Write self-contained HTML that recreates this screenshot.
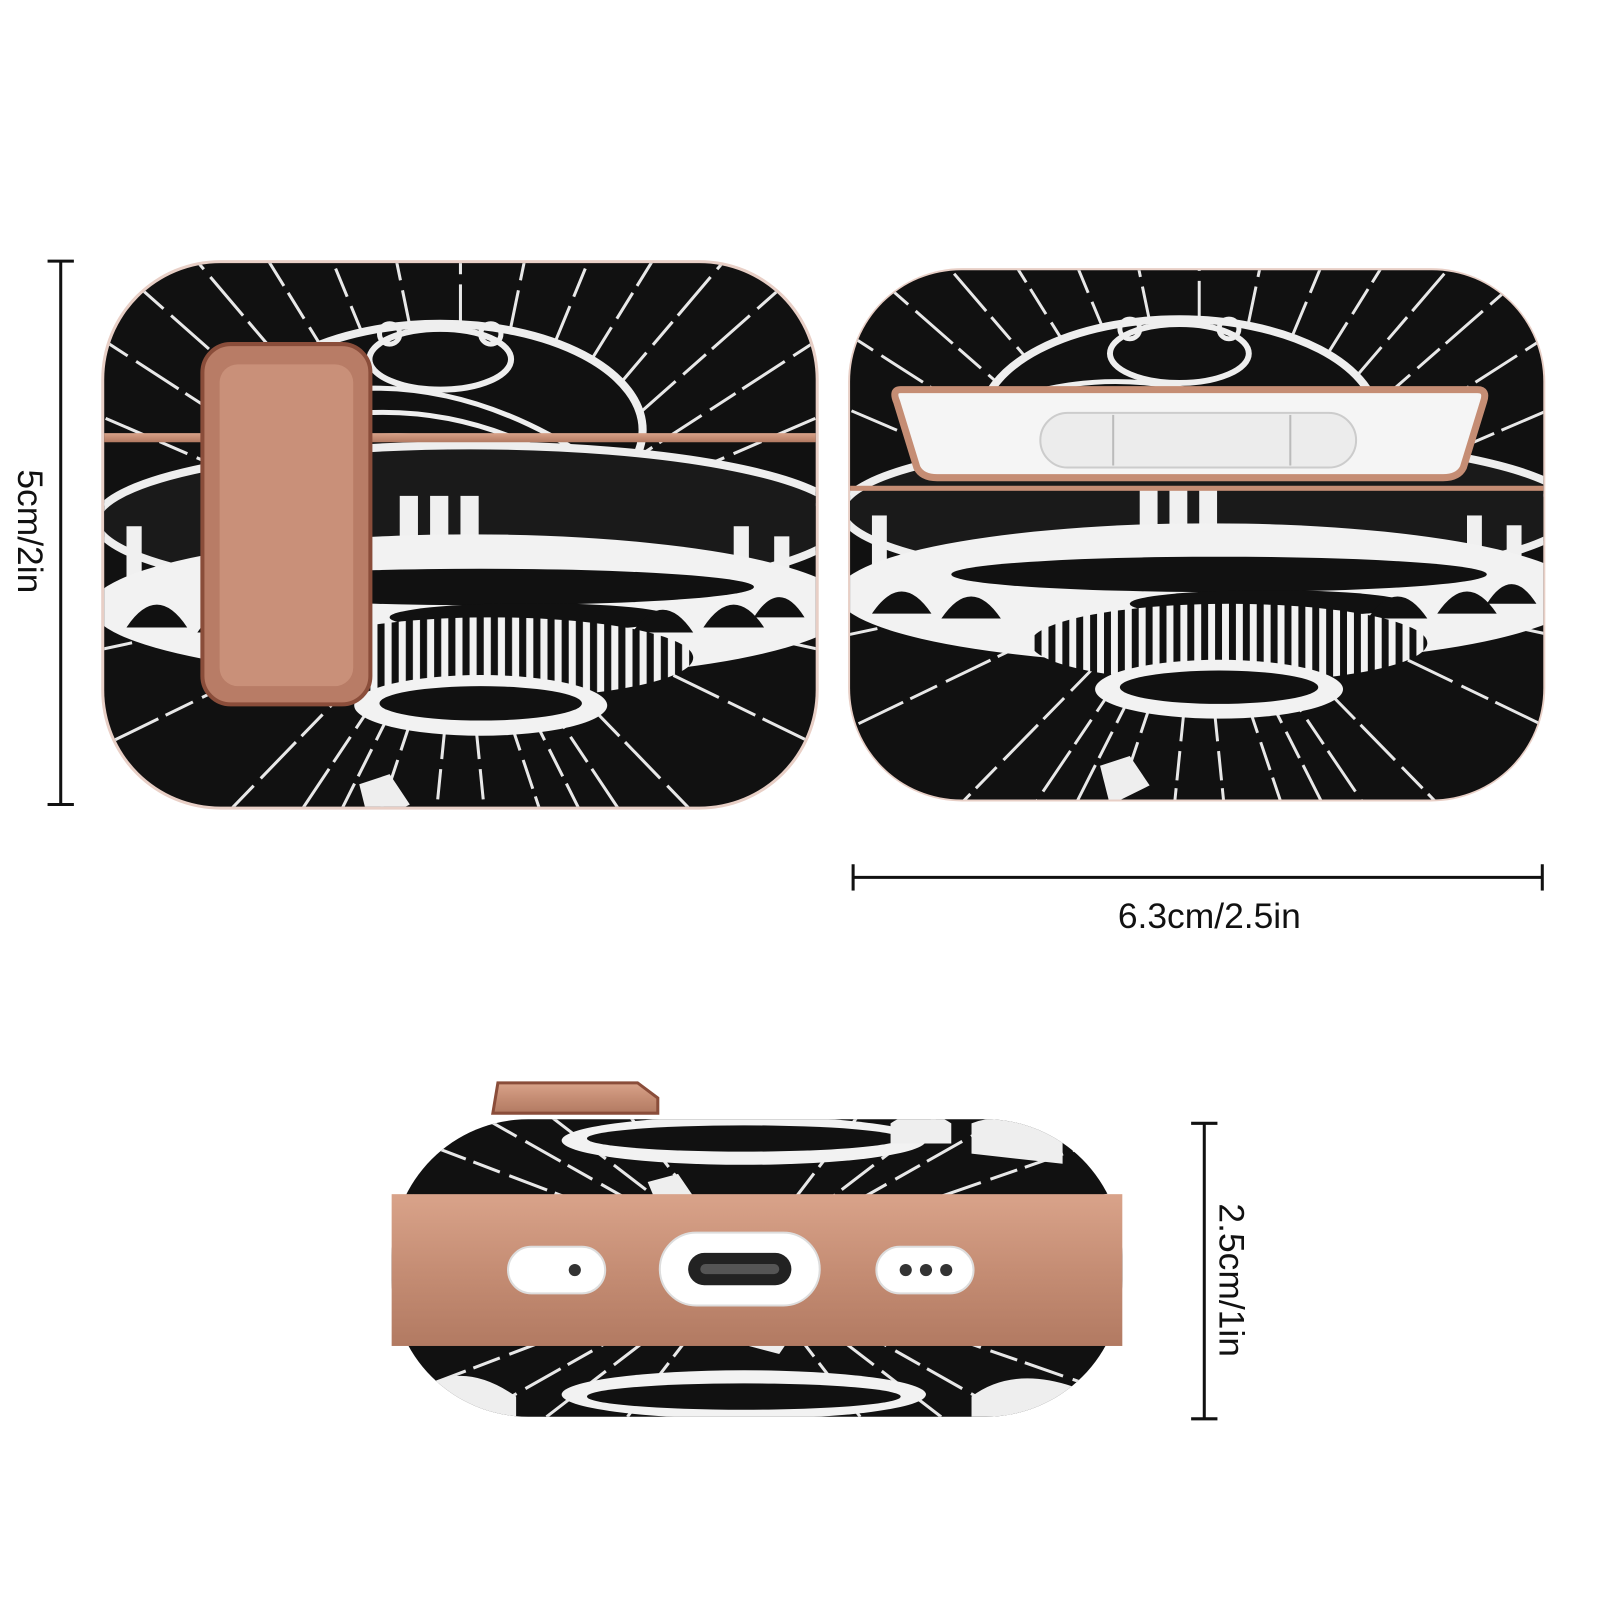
<!DOCTYPE html>
<html><head><meta charset="utf-8"><style>
html,body{margin:0;padding:0;background:#fff;width:1600px;height:1600px;overflow:hidden;}
svg{display:block}
text{font-family:"Liberation Sans",sans-serif;}
</style></head><body>
<svg width="1600" height="1600" viewBox="0 0 1600 1600" xmlns="http://www.w3.org/2000/svg">
<defs>
<linearGradient id="rose" x1="0" y1="0" x2="0" y2="1">
<stop offset="0" stop-color="#d9a38a"/><stop offset="0.5" stop-color="#c58d74"/><stop offset="1" stop-color="#b27a62"/>
</linearGradient>
<pattern id="stripes" width="14" height="20" patternUnits="userSpaceOnUse">
<rect width="14" height="20" fill="#f2f2f2"/><rect x="2" width="7" height="20" fill="#111"/>
</pattern>
<g id="art">
  <rect x="-20" y="-20" width="760" height="600" fill="#111"/>
  <g stroke="#e8e8e8" stroke-width="3" stroke-dasharray="30 8 50 10">
    <path d="M350 300 L350 -40 M350 300 L280 -40 M350 300 L210 -40 M350 300 L140 -40 M350 300 L70 -30 M350 300 L0 -10 M350 300 L420 -40 M350 300 L490 -40 M350 300 L560 -40 M350 300 L630 -30 M350 300 L700 -10 M350 300 L-20 60 M350 300 L720 60 M350 300 L-20 140 M350 300 L720 140 M350 300 L-20 230 M350 300 L720 230 M350 300 L-20 380 M350 300 L720 380 M350 300 L-20 480 M350 300 L720 480 M350 300 L60 600 M350 300 L640 600 M350 300 L150 600 M350 300 L550 600 M350 300 L250 600 M350 300 L450 600 M350 300 L320 600 M350 300 L380 600 M350 300 L200 600 M350 300 L500 600"/>
  </g>
  <ellipse cx="330" cy="160" rx="200" ry="105" fill="#111" stroke="#eee" stroke-width="8"/>
  <path d="M180 130 q150 -40 300 60 M200 150 q150 -30 280 60 M230 170 q130 -20 240 50" stroke="#eee" stroke-width="5" fill="none"/>
  <ellipse cx="330" cy="90" rx="70" ry="30" fill="#111" stroke="#eee" stroke-width="6"/>
  <circle cx="280" cy="65" r="10" fill="none" stroke="#eee" stroke-width="5"/>
  <circle cx="380" cy="65" r="10" fill="none" stroke="#eee" stroke-width="5"/>
  <ellipse cx="360" cy="250" rx="370" ry="75" fill="#1a1a1a" stroke="#eee" stroke-width="8"/>
  <g fill="#f0f0f0"><rect x="290" y="225" width="18" height="55"/><rect x="320" y="225" width="18" height="55"/><rect x="350" y="225" width="18" height="55"/><rect x="20" y="255" width="15" height="50"/><rect x="620" y="255" width="15" height="50"/><rect x="660" y="265" width="15" height="50"/></g>
  <ellipse cx="360" cy="335" rx="375" ry="72" fill="#f2f2f2"/>
  <ellipse cx="370" cy="315" rx="270" ry="18" fill="#111"/>
  <ellipse cx="420" cy="345" rx="140" ry="14" fill="#111"/>
  <g fill="#111"><path d="M20 355 q30 -45 60 0 z M90 360 q30 -45 60 0 z M520 360 q30 -45 60 0 z M590 355 q30 -45 60 0z M640 345 q25 -40 50 0z"/></g>
  <ellipse cx="380" cy="385" rx="200" ry="40" fill="url(#stripes)"/>
  <ellipse cx="370" cy="432" rx="125" ry="30" fill="#f2f2f2"/>
  <ellipse cx="370" cy="430" rx="100" ry="17" fill="#111"/>
  <path d="M250 510 l30 -10 l20 30 l-40 20z" fill="#eee"/>
</g>
<clipPath id="c1"><rect x="103" y="260" width="703" height="537" rx="115"/></clipPath>
<clipPath id="c2"><rect x="840" y="267" width="685" height="523" rx="110"/></clipPath>
<clipPath id="c3"><rect x="387" y="1106" width="722" height="294" rx="135"/></clipPath>
</defs>

<g transform="scale(1.012)">
<!-- left dimension -->
<g stroke="#111" stroke-width="3"><line x1="60" y1="258" x2="60" y2="795"/><line x1="47" y1="258" x2="73" y2="258"/><line x1="47" y1="795" x2="73" y2="795"/></g>
<text x="0" y="0" font-size="35" transform="translate(18 525) rotate(90)" text-anchor="middle" fill="#111">5cm/2in</text>

<!-- left case -->
<rect x="100" y="257" width="709" height="543" rx="118" fill="#e8cfc6"/>
<g clip-path="url(#c1)"><use href="#art" transform="translate(105 265)"/></g>
<rect x="103" y="428" width="703" height="9" fill="url(#rose)"/>
<rect x="200" y="340" width="166" height="356" rx="28" fill="#b87c66" stroke="#8a4d3a" stroke-width="4"/>
<rect x="217" y="360" width="132" height="318" rx="18" fill="#c99079"/>

<!-- right case -->
<rect x="838" y="265" width="689" height="527" rx="113" fill="#e8cfc6"/>
<g clip-path="url(#c2)"><use href="#art" transform="translate(842 262) scale(0.98 0.97)"/></g>
<path d="M890 385 L1460 385 Q1470 385 1466 397 L1446 462 Q1441 472 1426 472 L926 472 Q911 472 906 462 L886 397 Q881 385 890 385Z" fill="#f5f5f5" stroke="#c58d74" stroke-width="7"/>
<rect x="1028" y="408" width="312" height="54" rx="27" fill="#ececec" stroke="#ccc" stroke-width="2"/>
<line x1="1100" y1="410" x2="1100" y2="460" stroke="#bbb" stroke-width="2"/>
<line x1="1275" y1="410" x2="1275" y2="460" stroke="#bbb" stroke-width="2"/>
<rect x="840" y="480" width="685" height="5" fill="#c58d74"/>

<!-- horizontal dimension -->
<g stroke="#111" stroke-width="3"><line x1="843" y1="867" x2="1524" y2="867"/><line x1="843" y1="854" x2="843" y2="880"/><line x1="1524" y1="854" x2="1524" y2="880"/></g>
<text x="1195" y="917" font-size="35" text-anchor="middle" fill="#111">6.3cm/2.5in</text>

<!-- bottom case -->
<path d="M492 1070 L630 1070 L650 1085 L650 1100 L487 1100 Z" fill="url(#rose)" stroke="#8a4d3a" stroke-width="3"/>
<g clip-path="url(#c3)">
  <rect x="380" y="1100" width="740" height="310" fill="#111"/>
  <g stroke="#e8e8e8" stroke-width="3" stroke-dasharray="28 8 40 10">
    <path d="M735 1250 L420 1130 M735 1250 L470 1100 M735 1250 L540 1100 M735 1250 L620 1100 M735 1250 L850 1100 M735 1250 L930 1100 M735 1250 L1000 1100 M735 1250 L1080 1130 M735 1250 L400 1180 M735 1250 L1100 1180"/>
    <path d="M735 1250 L420 1370 M735 1250 L470 1400 M735 1250 L540 1400 M735 1250 L620 1400 M735 1250 L850 1400 M735 1250 L930 1400 M735 1250 L1000 1400 M735 1250 L1080 1370 M735 1250 L400 1320 M735 1250 L1100 1320"/>
  </g>
  <ellipse cx="735" cy="1127" rx="180" ry="24" fill="#f2f2f2"/>
  <ellipse cx="735" cy="1125" rx="155" ry="13" fill="#111"/>
  <path d="M880 1110 q30 -20 60 0 l0 20 l-60 0z M960 1110 q40 -15 90 10 l0 30 l-90 -10z" fill="#eee"/>
  <path d="M640 1168 l30 -8 l15 22 l-35 10z" fill="#eee"/>
  <ellipse cx="735" cy="1378" rx="180" ry="24" fill="#f2f2f2"/>
  <ellipse cx="735" cy="1380" rx="155" ry="13" fill="#111"/>
  <path d="M420 1370 q40 -25 90 10 l0 30 l-90 0z M960 1380 q40 -30 100 -10 l0 30 l-100 0z" fill="#eee"/>
  <path d="M740 1330 l30 8 l15 -22 l-35 -10z" fill="#eee"/>
</g>
<rect x="387" y="1180" width="722" height="150" fill="url(#rose)"/>
<rect x="502" y="1232" width="96" height="46" rx="23" fill="#fff" stroke="#ddd" stroke-width="2"/>
<circle cx="568" cy="1255" r="6" fill="#333"/>
<rect x="652" y="1218" width="158" height="72" rx="36" fill="#fff" stroke="#ddd" stroke-width="2"/>
<rect x="680" y="1238" width="102" height="32" rx="16" fill="#222"/>
<rect x="692" y="1249" width="78" height="10" rx="5" fill="#555"/>
<rect x="866" y="1232" width="96" height="46" rx="23" fill="#fff" stroke="#ddd" stroke-width="2"/>
<circle cx="895" cy="1255" r="6" fill="#333"/><circle cx="915" cy="1255" r="6" fill="#333"/><circle cx="935" cy="1255" r="6" fill="#333"/>

<!-- right vertical dimension -->
<g stroke="#111" stroke-width="3"><line x1="1190" y1="1110" x2="1190" y2="1402"/><line x1="1177" y1="1110" x2="1203" y2="1110"/><line x1="1177" y1="1402" x2="1203" y2="1402"/></g>
<text x="0" y="0" font-size="35" transform="translate(1205 1265) rotate(90)" text-anchor="middle" fill="#111">2.5cm/1in</text>
</g>
</svg>
</body></html>
